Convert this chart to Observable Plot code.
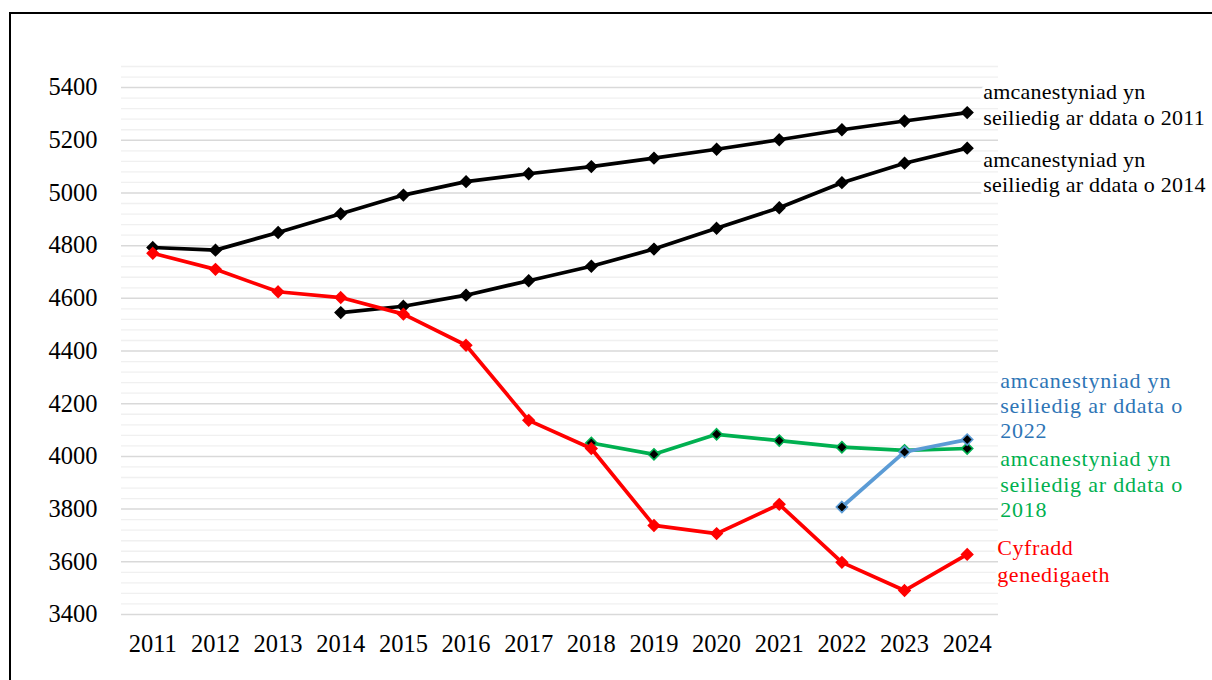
<!DOCTYPE html>
<html>
<head>
<meta charset="utf-8">
<script src="https://cdn.jsdelivr.net/npm/d3@7"></script>
<script src="https://cdn.jsdelivr.net/npm/@observablehq/plot@0.6"></script>
<style>
  html, body { margin: 0; padding: 0; background: #fff; width: 1212px; height: 680px; overflow: hidden; }
  #frame { position: absolute; left: 9px; top: 12px; width: 1240px; height: 720px; border: 2px solid #000; box-sizing: border-box; pointer-events: none; }
  #chart { position: absolute; left: 0; top: 0; }
</style>
</head>
<body>
<div id="chart"></div>
<div id="frame"></div>
<script>
// ---- data ----
const years = [2011, 2012, 2013, 2014, 2015, 2016, 2017, 2018, 2019, 2020, 2021, 2022, 2023, 2024];
const proj2011 = [4793, 4783, 4850, 4921, 4992, 5043, 5073, 5100, 5132, 5166, 5202, 5240, 5273, 5305];
const proj2014 = [null, null, null, 4546, 4570, 4612, 4667, 4722, 4787, 4866, 4944, 5039, 5113, 5170];
const proj2018 = [null, null, null, null, null, null, null, 4051, 4008, 4084, 4060, 4035, 4023, 4030];
const proj2022 = [null, null, null, null, null, null, null, null, null, null, null, 3808, 4017, 4064];
const births   = [4771, 4710, 4625, 4603, 4540, 4422, 4137, 4030, 3738, 3707, 3818, 3598, 3491, 3628];

const label2011 = "amcanestyniad yn\nseiliedig ar ddata o 2011";
const label2014 = "amcanestyniad yn\nseiliedig ar ddata o 2014";
const label2022 = "amcanestyniad yn\nseiliedig ar ddata o\n2022";
const label2018 = "amcanestyniad yn\nseiliedig ar ddata o\n2018";
const labelBirths = "Cyfradd\ngenedigaeth";

const yTicks = [3400, 3600, 3800, 4000, 4200, 4400, 4600, 4800, 5000, 5200, 5400];
const yMinorGrid = d3.range(3440, 5481, 40).filter(v => v % 200 !== 0);
const yDomain = [3400, 5480];

// ---- build tables ----
const toRows = arr => years.map((yr, i) => ({year: yr, value: arr[i]})).filter(d => d.value != null);
const s2011 = toRows(proj2011), s2014 = toRows(proj2014), s2018 = toRows(proj2018),
      s2022 = toRows(proj2022), sBirths = toRows(births);
const last = rows => [rows[rows.length - 1]];

const lineW = 3.7;
const series = (rows, color, fill, stroke) => [
  Plot.line(rows, {x: "year", y: "value", stroke: color, strokeWidth: lineW, strokeLinejoin: "round"}),
  Plot.dot(rows, {x: "year", y: "value", symbol: "diamond2", r: 5, fill: fill, stroke: stroke, strokeWidth: 1.6})
];
const label = (rows, text, color, dx, dy, lh) =>
  Plot.text(last(rows), {x: "year", y: "value", text: () => text, fill: color, textAnchor: "start",
    lineAnchor: "middle", lineHeight: lh, dx, dy, fontSize: 22, fontFamily: "Liberation Serif",
    stroke: "white", strokeWidth: 7});

const chart = Plot.plot({
  width: 1212,
  height: 680,
  marginLeft: 121,
  marginRight: 214,
  marginTop: 66,
  marginBottom: 66,
  style: {fontFamily: "Liberation Serif", fontSize: "24.5px", color: "#000", background: "transparent"},
  x: {type: "point", domain: years, padding: 0.5, round: false, tickSize: 0, tickPadding: 20, tickFormat: d => String(d), label: null},
  y: {domain: yDomain, ticks: yTicks, tickSize: 0, tickPadding: 24, tickFormat: d => String(d), label: null},
  marks: [
    Plot.ruleY(yMinorGrid, {stroke: "#f0f0f0", strokeWidth: 1.3}),
    Plot.ruleY(yTicks, {stroke: "#d9d9d9", strokeWidth: 1.5}),
    label(s2011, label2011, "#000000", 16, -9, 1.18),
    label(s2014, label2014, "#000000", 16, 23, 1.18),
    label(s2022, label2022, "#2E75B6", 33, -35, 1.14),
    label(s2018, label2018, "#00B050", 33, 35, 1.14),
    label(sBirths, labelBirths, "#FF0000", 30, 5, 1.23),
    ...series(s2011, "#000", "#000", "#000"),
    ...series(s2014, "#000", "#000", "#000"),
    ...series(s2018, "#00B050", "#000", "#00B050"),
    ...series(s2022, "#5B9BD5", "#000", "#5B9BD5"),
    ...series(sBirths, "#FF0000", "#FF0000", "#FF0000")
  ]
});
document.getElementById("chart").appendChild(chart);
// letter spacing for the right-hand labels (Excel-like spaced text)
const spacing = {"#000000": "0.25px", "#2E75B6": "0.8px", "#00B050": "0.8px", "#FF0000": "0.6px"};
d3.select(chart).selectAll("text").each(function () {
  let el = this, f = null;
  while (el && el !== chart && !f) { f = el.getAttribute && el.getAttribute("fill"); el = el.parentNode; }
  if (f && spacing[f]) this.setAttribute("letter-spacing", spacing[f]);
});
</script>
</body>
</html>
